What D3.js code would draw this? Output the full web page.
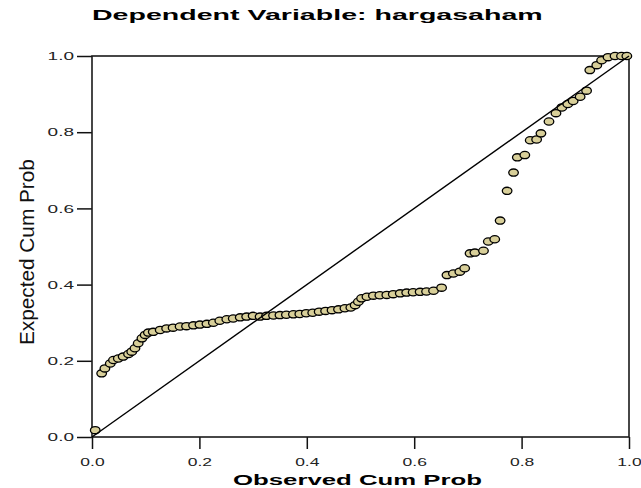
<!DOCTYPE html>
<html><head><meta charset="utf-8">
<script src="https://cdn.jsdelivr.net/npm/d3@7"></script>
<style>body{margin:0;background:#fff}svg{display:block}</style>
</head><body>
<svg id="c" width="641" height="488"></svg>
<script>
const title = "Dependent Variable: hargasaham";
const xTitle = "Observed Cum Prob";
const yTitle = "Expected Cum Prob";
const tickValues = [0, 0.2, 0.4, 0.6, 0.8, 1.0];
const observed = [0.006,0.018,0.024,0.034,0.040,0.049,0.058,0.068,0.074,0.080,0.086,0.093,0.099,0.105,0.114,0.127,0.139,0.151,0.164,0.176,0.189,0.201,0.214,0.226,0.238,0.251,0.263,0.276,0.288,0.300,0.313,0.325,0.338,0.350,0.362,0.375,0.387,0.399,0.411,0.423,0.435,0.447,0.459,0.471,0.482,0.490,0.496,0.502,0.512,0.524,0.536,0.549,0.561,0.574,0.586,0.598,0.611,0.623,0.636,0.651,0.661,0.673,0.685,0.694,0.704,0.713,0.729,0.738,0.750,0.760,0.773,0.785,0.792,0.806,0.816,0.828,0.836,0.851,0.864,0.875,0.886,0.896,0.909,0.921,0.927,0.940,0.949,0.961,0.974,0.986,0.996];
const expected = [0.018,0.167,0.180,0.193,0.202,0.206,0.211,0.218,0.224,0.233,0.246,0.259,0.268,0.274,0.276,0.281,0.285,0.287,0.290,0.291,0.293,0.295,0.297,0.300,0.305,0.309,0.311,0.314,0.316,0.318,0.316,0.318,0.319,0.320,0.321,0.322,0.323,0.325,0.326,0.329,0.331,0.333,0.335,0.338,0.340,0.346,0.355,0.364,0.368,0.371,0.372,0.373,0.375,0.377,0.379,0.380,0.381,0.382,0.384,0.392,0.425,0.429,0.434,0.443,0.482,0.484,0.489,0.513,0.519,0.568,0.646,0.694,0.734,0.740,0.779,0.781,0.797,0.828,0.850,0.865,0.874,0.882,0.893,0.909,0.963,0.976,0.989,0.997,1.0,1.0,1.0];
const refLine = [[0,0],[1,1]];

const svg = d3.select("#c");
const font = "'Liberation Sans', Arial, sans-serif";
const L = 92, R = 629, T = 56, B = 437;
const x = d3.scaleLinear().domain([0,1]).range([L,R]);
const y = d3.scaleLinear().domain([0,1]).range([B,T]);

function fitText(sel, width) {
  const w = sel.node().getComputedTextLength();
  return width / w;
}

// title
const t = svg.append("text").attr("font-family", font).attr("font-weight","bold")
  .attr("font-size", 14).attr("fill","#000").text(title);
const st = fitText(t, 451);
t.attr("transform", `translate(92,20) scale(${st},1)`);

// x axis
const gx = svg.append("g").attr("transform", `translate(0,${B})`)
  .call(d3.axisBottom(x).tickValues(tickValues).tickSize(12).tickFormat(d3.format(".1f")));
gx.select(".domain").remove();
gx.selectAll("line").attr("stroke","#111").attr("stroke-width",1.5);
gx.selectAll("text").each(function(){
  const s = d3.select(this);
  s.attr("font-family", font).attr("font-size",10).attr("fill","#222")
   .attr("y", null).attr("dy", null).attr("x", null)
   .attr("transform", "translate(0,29) scale(1.75,1)");
});

// y axis
const gy = svg.append("g").attr("transform", `translate(${L},0)`)
  .call(d3.axisLeft(y).tickValues(tickValues).tickSize(15).tickFormat(d3.format(".1f")));
gy.select(".domain").remove();
gy.selectAll("line").attr("stroke","#111").attr("stroke-width",1.5);
gy.selectAll("text").each(function(){
  const s = d3.select(this);
  s.attr("font-family", font).attr("font-size",10).attr("fill","#222")
   .attr("x", null).attr("dy", null).attr("y", null)
   .attr("transform", "translate(-18,3.6) scale(1.9,1)");
});

// frame
svg.append("rect").attr("x",L).attr("y",T).attr("width",R-L).attr("height",B-T)
  .attr("fill","none").attr("stroke","#1a1a1a").attr("stroke-width",1.6);

// points
svg.append("g").selectAll("ellipse").data(observed.map((o,i)=>[o,expected[i]]))
  .join("ellipse")
  .attr("cx", d=>x(d[0])).attr("cy", d=>y(d[1]))
  .attr("rx",4.8).attr("ry",3.6)
  .attr("fill","#d8cf99").attr("stroke","#000").attr("stroke-width",1.3);

// reference line
svg.append("path").datum(refLine)
  .attr("d", d3.line().x(d=>x(d[0])).y(d=>y(d[1])))
  .attr("stroke","#000").attr("stroke-width",1.4).attr("fill","none");

// x title
const xt = svg.append("text").attr("font-family", font).attr("font-weight","bold")
  .attr("font-size", 14).attr("fill","#000").text(xTitle);
const sx = fitText(xt, 249);
xt.attr("transform", `translate(233,485) scale(${sx},1)`);

// y title
const yt = svg.append("text").attr("font-family", font)
  .attr("font-size", 21).attr("fill","#111").text(yTitle);
const sy = fitText(yt, 186);
yt.attr("transform", `translate(34,345) rotate(-90) scale(${sy},1)`);
</script>
</body></html>
